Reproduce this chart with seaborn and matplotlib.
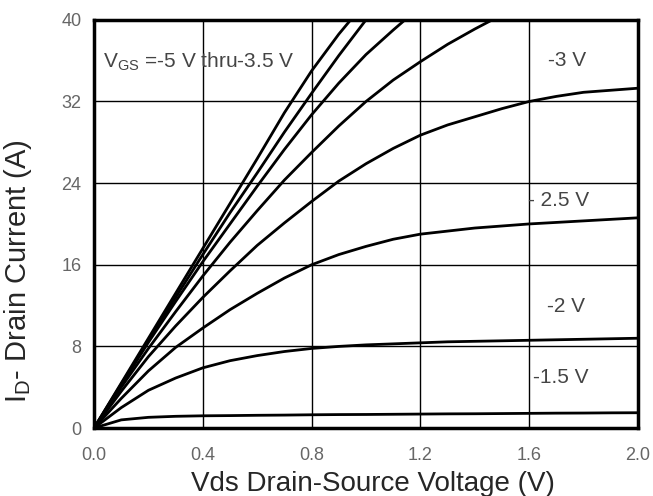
import matplotlib
matplotlib.use('Agg')
from matplotlib import pyplot as plt
import seaborn as sns
import pandas as pd

# Output curves (Vds in V, Id in A), None = above the 40 A frame
vds = [0.0, 0.1, 0.2, 0.3, 0.4, 0.5, 0.6, 0.7, 0.8, 0.9, 1.0,
       1.1, 1.2, 1.3, 1.4, 1.5, 1.6, 1.7, 1.8, 1.9, 2.0]
id_5v0 = [0.0, 4.4, 8.8, 13.2, 17.6, 22.0, 26.4, 30.9, 35.0, 38.6, 41.8,
          None, None, None, None, None, None, None, None, None, None]
id_4v5 = [0.0, 4.3, 8.6, 12.8, 17.0, 21.1, 25.0, 29.0, 32.8, 36.5, 40.0,
          43.3, None, None, None, None, None, None, None, None, None]
id_4v0 = [0.0, 4.2, 8.4, 12.4, 16.3, 20.0, 23.7, 27.3, 30.7, 33.8, 36.6,
          39.0, 41.3, None, None, None, None, None, None, None, None]
id_3v5 = [0.0, 4.0, 7.8, 11.4, 14.9, 18.2, 21.3, 24.3, 27.0, 29.6, 32.0,
          34.1, 35.9, 37.6, 39.1, 40.5, None, None, None, None, None]
id_3v0 = [0.0, 3.6, 7.0, 10.0, 12.8, 15.4, 17.9, 20.1, 22.2, 24.2, 25.9,
          27.4, 28.7, 29.7, 30.5, 31.3, 32.0, 32.5, 32.9, 33.1, 33.3]
id_2v5 = [0.0, 2.9, 5.6, 7.9, 9.8, 11.6, 13.2, 14.7, 16.0, 17.0, 17.8,
          18.5, 19.0, 19.3, 19.6, 19.8, 20.0, 20.15, 20.3, 20.45, 20.6]
id_2v0 = [0.0, 2.0, 3.7, 4.9, 5.9, 6.6, 7.1, 7.5, 7.8, 8.0, 8.15,
          8.25, 8.35, 8.45, 8.5, 8.55, 8.6, 8.65, 8.7, 8.75, 8.8]
id_1v5 = [0.0, 0.8, 1.05, 1.15, 1.2, 1.22, 1.25, 1.27, 1.3, 1.32, 1.33,
          1.35, 1.37, 1.39, 1.4, 1.42, 1.44, 1.46, 1.47, 1.49, 1.5]

vgs_names = ['-5', '-4.5', '-4', '-3.5', '-3', '-2.5', '-2', '-1.5']
curves = [id_5v0, id_4v5, id_4v0, id_3v5, id_3v0, id_2v5, id_2v0, id_1v5]

x_ticks = [0.0, 0.4, 0.8, 1.2, 1.6, 2.0]
y_ticks = [0, 8, 16, 24, 32, 40]

rows = []
for name, cur in zip(vgs_names, curves):
    for v, i in zip(vds, cur):
        if i is not None:
            rows.append({'Vds': v, 'Id': i, 'Vgs': name})
df = pd.DataFrame(rows)

sns.set_style('white')
plt.rcParams['font.family'] = ['Liberation Sans', 'DejaVu Sans']

fig = plt.figure(figsize=(6.53, 4.96), dpi=100)
ax = fig.add_axes([0.144, 0.137, 0.833, 0.823])

sns.lineplot(data=df, x='Vds', y='Id', hue='Vgs', units='Vgs', estimator=None,
             palette=['black'] * len(vgs_names), linewidth=2.0, legend=False, ax=ax)

ax.set_xlim(0, 2.0)
ax.set_ylim(0, 40)
ax.set_xticks(x_ticks)
ax.set_xticklabels([f'{t:.1f}' for t in x_ticks])
ax.set_yticks(y_ticks)
ax.grid(True, color='black', linewidth=1.0)
ax.tick_params(length=0, labelsize=13, labelcolor='#666666')
ax.tick_params(axis='x', pad=14)
ax.tick_params(axis='y', pad=9)
for s in ax.spines.values():
    s.set_color('black')
    s.set_linewidth(2.5)

ax.set_xlabel('Vds Drain-Source Voltage (V)', fontsize=20)
ax.set_ylabel('I$_\\mathregular{D}$- Drain Current (A)', fontsize=21)
ax.xaxis.set_label_coords(0.513, -0.105)
ax.yaxis.set_label_coords(-0.11, 0.385)

# curve labels
lab_kw = dict(fontsize=15, color='#444444', va='baseline')
ax.text(0.033, 35.3, 'V$_\\mathregular{GS}$ =-5 V thru-3.5 V', **lab_kw)
ax.text(1.67, 35.5, '-3 V', **lab_kw)
ax.text(1.595, 21.8, '- 2.5 V', **lab_kw)
ax.text(1.665, 11.4, '-2 V', **lab_kw)
ax.text(1.615, 4.4, '-1.5 V', **lab_kw)

plt.savefig('out.png', dpi=100)
